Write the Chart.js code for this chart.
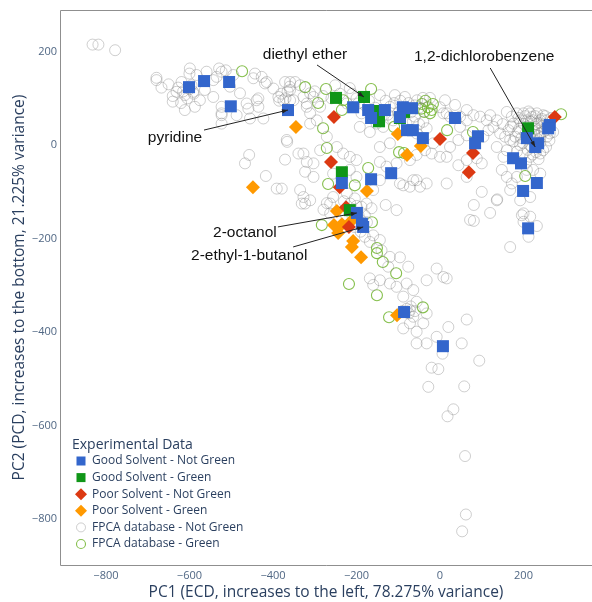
<!DOCTYPE html>
<html>
<head>
<meta charset="utf-8">
<script src="https://cdn.jsdelivr.net/npm/chart.js@4.4.1/dist/chart.umd.min.js"></script>
<style>
  html, body { margin: 0; padding: 0; background: #fff; }
  #myChart { display: block; }
</style>
</head>
<body>
<canvas id="myChart" width="592" height="602"></canvas>
<script>
const xTicks = [-800, -600, -400, -200, 0, 200];
const yTicks = [200, 0, -200, -400, -600, -800];

const goodNotGreen = [
  [-601, 124], [-565, 137], [-505, 135], [-501, 83], [-364, 75], [-208, 81], [-172, 75],
  [-132, 75], [-165, 58], [-89, 81], [-67, 79], [-96, 60], [-79, 32], [-65, 32], [-41, 15],
  [36, 58], [91, 19], [84, 4], [208, 15], [235, 4], [228, -4], [175, -28], [194, -39],
  [263, 43], [259, 36], [232, -81], [199, -98], [211, -178], [-117, -60], [-165, -73],
  [-235, -81], [-199, -145], [-184, -175], [-187, -168], [-86, -357], [7, -430]
];
const goodGreen = [
  [-249, 101], [-182, 103], [-156, 73], [-146, 51], [-86, 71], [-96, 58], [211, 36],
  [-235, -58], [-216, -139]
];
const poorNotGreen = [
  [-254, 60], [-261, -36], [-240, -90], [-225, -133], [-218, -175], [0, 13], [79, -17],
  [69, -58], [275, 60]
];
const poorGreen = [
  [-345, 39], [-448, -90], [-101, 24], [-46, -2], [-79, -21], [-175, -98], [-247, -141],
  [-254, -171], [-235, -169], [-213, -163], [-244, -188], [-208, -205], [-211, -218],
  [-189, -240], [-103, -364]
];
const fpcaGreen = [
  [-474, 158], [-323, 124], [-273, 120], [-232, 96], [-165, 120], [-292, 90], [-280, 36],
  [-235, 75], [-43, 88], [-29, 81], [-17, 88], [-38, 71], [-24, 68], [-35, 95], [-20, 75],
  [-45, 78], [17, 32], [79, 28], [290, 66], [204, -66], [-110, 39], [-98, -15], [-86, -17],
  [-271, -6], [-172, -49], [-204, -86], [-268, -83], [-283, -171], [-163, -165], [-151, -220],
  [-151, -231], [-137, -250], [-105, -274], [-218, -297], [-151, -321], [-41, -347], [-122, -368]
];
const fpcaNotGreen = [
  [-832, 215], [-818, 215], [-778, 203],
  [-679, 144], [-667, 123], [-679, 139], [-640, 93], [-627, 123], [-619, 135], [-599, 164],
  [-583, 150], [-611, 107], [-611, 75], [-575, 96], [-563, 118], [-543, 139], [-523, 157],
  [-535, 146], [-543, 103], [-523, 82], [-523, 64], [-487, 64], [-479, 111], [-459, 78],
  [-447, 143], [-427, 146], [-415, 135], [-435, 100], [-423, 57], [-455, 57], [-399, 121],
  [-387, 103], [-375, 96], [-371, 135], [-359, 135], [-351, 96], [-523, 46], [-503, 125],
  [-595, 128], [-631, 114], [-615, 115], [-605, 100], [-620, 90], [-600, 120], [-590, 110],
  [-640, 105], [-650, 130], [-380, 110], [-365, 115], [-370, 100], [-385, 95], [-360, 125],
  [-600, 153], [-559, 157], [-529, 164], [-513, 160], [-495, 150], [-443, 153], [-419, 132],
  [-327, 103], [-319, 82], [-439, 96], [-435, 82], [-463, 89], [-523, 68], [-587, 82], [-591, 114],
  [-366, 7], [-457, -21], [-467, -39], [-371, -31], [-339, -18], [-417, -66], [-391, -93],
  [-379, -93], [-331, -125], [-367, 11], [-323, -57], [-319, -36], [-327, -111],
  [-319, 89], [-303, 103], [-311, 68], [-295, 53], [-287, 82], [-311, 46], [-223, 89],
  [-196, 89], [-188, 68], [-192, 39], [-168, 28], [-136, 39], [-152, 46], [-120, 82],
  [-112, 53], [-60, 61], [-56, 25], [-32, 36], [-16, 4], [-20, -18], [-36, -11], [0, -25],
  [24, -4], [48, 39], [64, 75], [16, 68], [-144, -4], [-120, 4], [-144, -36], [-128, -46],
  [-104, -39], [-72, -32], [-56, -21], [-271, 18], [-287, -11], [-247, -4], [-232, -18],
  [-216, -25], [-200, -32], [-327, -18], [-303, -39], [-256, -61], [-216, -53], [-200, -68],
  [-303, -68], [-144, -75], [-64, -75], [-48, -89], [16, -82], [-72, -89], [-88, -86],
  [-130, 95], [-110, 90], [-95, 95], [-75, 90], [-60, 85], [-50, 80], [-70, 70], [-85, 75],
  [-100, 70], [-125, 65], [-140, 60], [-155, 80], [-170, 95], [-180, 85], [-200, 100],
  [-210, 110], [-240, 110], [-260, 100], [-280, 105], [-300, 115], [-50, 45], [-65, 50],
  [-80, 45], [-40, 50],
  [-347, 135], [-311, 111], [-359, 96], [-41, 101], [-55, 96], [0, 81], [-24, 101], [12, 96],
  [36, 86], [-251, 128], [-216, 122], [-144, 107], [-108, 107], [-84, 103], [-359, 118], [-335, 128],
  [8, 68], [24, 61], [48, 61], [64, 53], [80, 64], [96, 61], [112, 53], [120, 64], [128, 39],
  [116, 32], [104, 18], [64, 21], [44, 11], [16, -25], [44, -43], [64, -32], [88, -28],
  [100, -39], [64, -68], [100, -100], [81, -128], [136, -118], [81, -162], [168, -218],
  [196, -150], [216, -153], [232, -173], [212, -196], [200, -164], [120, -145], [72, -160],
  [137, -116],
  [160, 71], [172, 61], [184, 68], [200, 68], [216, 68], [232, 68], [247, 64], [256, 53],
  [240, 53], [223, 53], [208, 53], [192, 53], [176, 46], [164, 32], [156, 18], [168, 11],
  [180, 18], [192, 0], [184, -14], [200, -18], [216, -25], [240, -18], [247, -11], [256, 18],
  [263, 25], [271, 28], [240, 25], [160, -11], [152, -25], [148, -53], [160, -68], [172, -82],
  [184, -68], [208, -53], [223, -53], [240, -61], [168, -96], [216, -111], [192, -118],
  [200, -146], [136, 53], [144, 25], [136, -4], [220, 60], [230, 45], [245, 40], [210, 40],
  [225, 30], [235, 20], [250, 30], [215, 20], [205, 25], [225, 10], [240, 5], [215, 0],
  [230, -15], [210, -10], [250, 45], [260, 40], [200, 45], [190, 35], [195, 15], [230, 35],
  [240, 15], [220, -5], [212, 72], [228, 62], [244, 56], [236, 48], [252, 62], [266, 58],
  [218, 50], [204, 62], [188, 58], [226, 22], [244, 28], [212, 30], [198, 5], [222, -20],
  [236, -30], [206, -38], [186, 28], [176, 8], [262, 10], [254, -4], [170, 40], [150, 45],
  [-323, -125], [-279, -138], [-263, -125], [-256, -111], [-223, -103], [-204, -114],
  [-188, -132], [-176, -125], [-164, -135], [-263, -146], [-180, -196], [-160, -193],
  [-168, -207], [-144, -203], [-140, -225], [-120, -239], [-124, -260], [-168, -285],
  [-144, -289], [-160, -299], [-120, -296], [-96, -240], [-76, -260], [-104, -303], [-80, -296],
  [-64, -310], [-88, -324], [-56, -335], [-72, -353], [-64, -367], [-88, -392], [-72, -381],
  [-56, -399], [-40, -381], [-32, -360], [-56, -424], [-32, -424], [-8, -410], [20, -389],
  [-8, -264], [8, -282], [16, -285], [-32, -289], [-96, -82], [-56, -75], [-32, -82],
  [-104, -139], [64, -373], [52, -424], [6, -446], [94, -461], [-20, -476], [-4, -479],
  [-28, -517], [58, -516], [32, -565], [18, -580], [60, -665], [62, -790], [53, -826],
  [-80, -350], [-70, -345], [-75, -360], [-60, -355], [-90, -355],
  [-230, -120], [-215, -125], [-200, -130], [-195, -150], [-210, -150], [-190, -160],
  [-180, -150], [-175, -165], [-205, -175], [-190, -185], [-225, -150], [-160, -96],
  [-130, -128], [-335, -96], [-311, -118], [-271, -124]
];

const legendTitle = "Experimental Data";
const seriesNames = [
  "Good Solvent - Not Green",
  "Good Solvent - Green",
  "Poor Solvent - Not Green",
  "Poor Solvent - Green",
  "FPCA database - Not Green",
  "FPCA database - Green"
];

// text, target point [x, y], text offset and arrow tail offset in px from the target
const labels = [
  { text: "diethyl ether", at: [-182, 103], dx: -59, dy: -42, tx: -47, ty: -32 },
  { text: "1,2-dichlorobenzene", at: [228, -4], dx: -51, dy: -90, tx: -45, ty: -79 },
  { text: "pyridine", at: [-364, 75], dx: -113, dy: 28, tx: -84, ty: 20 },
  { text: "2-octanol", at: [-199, -145], dx: -112, dy: 20, tx: -79, ty: 14 },
  { text: "2-ethyl-1-butanol", at: [-184, -175], dx: -114, dy: 29, tx: -70, ty: 20 }
];

function toPoints(list) {
  return list.map(p => ({ x: p[0], y: p[1] }));
}

function minusLabel(v) {
  return v < 0 ? "\u2212" + Math.abs(v) : String(v);
}

const markerStyles = [
  { pointStyle: "rect", pointRadius: 8.5, backgroundColor: "#3366cc", borderColor: "#3366cc", borderWidth: 0 },
  { pointStyle: "rect", pointRadius: 8.5, backgroundColor: "#109618", borderColor: "#109618", borderWidth: 0 },
  { pointStyle: "rectRot", pointRadius: 7, backgroundColor: "#dc3912", borderColor: "#dc3912", borderWidth: 0 },
  { pointStyle: "rectRot", pointRadius: 7, backgroundColor: "#ff9900", borderColor: "#ff9900", borderWidth: 0 },
  { pointStyle: "circle", pointRadius: 5.5, backgroundColor: "rgba(0,0,0,0)", borderColor: "rgba(130,130,130,0.38)", borderWidth: 1 },
  { pointStyle: "circle", pointRadius: 5.5, backgroundColor: "rgba(0,0,0,0)", borderColor: "rgba(120,184,56,0.9)", borderWidth: 1.1 }
];

const seriesData = [goodNotGreen, goodGreen, poorNotGreen, poorGreen, fpcaNotGreen, fpcaGreen];

const datasets = seriesData.map((d, i) => ({
  label: seriesNames[i],
  data: toPoints(d),
  pointStyle: markerStyles[i].pointStyle,
  pointRadius: markerStyles[i].pointRadius,
  pointBackgroundColor: markerStyles[i].backgroundColor,
  pointBorderColor: markerStyles[i].borderColor,
  pointBorderWidth: markerStyles[i].borderWidth,
  pointHoverRadius: markerStyles[i].pointRadius,
  showLine: false
}));

const framePlugin = {
  id: "frame",
  afterDatasetsDraw(chart) {
    const ctx = chart.ctx;
    const a = chart.chartArea;
    ctx.save();
    ctx.strokeStyle = "#8f8f8f";
    ctx.lineWidth = 1;
    ctx.beginPath();
    ctx.moveTo(a.right, a.top + 0.5);
    ctx.lineTo(a.left + 0.5, a.top + 0.5);
    ctx.lineTo(a.left + 0.5, a.bottom + 0.5);
    ctx.lineTo(a.right, a.bottom + 0.5);
    ctx.stroke();

    // axis titles
    ctx.fillStyle = "#2a3f5f";
    ctx.font = "15.5px 'Open Sans'";
    ctx.textAlign = "center";
    ctx.textBaseline = "middle";
    ctx.fillText("PC1 (ECD, increases to the left, 78.275% variance)", (a.left + a.right) / 2, 593);
    ctx.translate(20, (a.top + a.bottom) / 2);
    ctx.rotate(-Math.PI / 2);
    ctx.fillText("PC2 (PCD, increases to the bottom, 21.225% variance)", 0, 0);
    ctx.restore();
  }
};

const annotationPlugin = {
  id: "labels",
  afterDatasetsDraw(chart) {
    const ctx = chart.ctx;
    const xs = chart.scales.x;
    const ys = chart.scales.y;
    ctx.save();
    labels.forEach(l => {
      const px = xs.getPixelForValue(l.at[0]);
      const py = ys.getPixelForValue(l.at[1]);
      const sx = px + l.tx;
      const sy = py + l.ty;
      ctx.strokeStyle = "#222";
      ctx.fillStyle = "#222";
      ctx.lineWidth = 1;
      ctx.beginPath();
      ctx.moveTo(sx, sy);
      ctx.lineTo(px, py);
      ctx.stroke();
      const ang = Math.atan2(py - sy, px - sx);
      ctx.beginPath();
      ctx.moveTo(px, py);
      ctx.lineTo(px - 6 * Math.cos(ang) + 2.2 * Math.sin(ang), py - 6 * Math.sin(ang) - 2.2 * Math.cos(ang));
      ctx.lineTo(px - 6 * Math.cos(ang) - 2.2 * Math.sin(ang), py - 6 * Math.sin(ang) + 2.2 * Math.cos(ang));
      ctx.closePath();
      ctx.fill();
      ctx.fillStyle = "#111";
      ctx.font = "15.5px 'Liberation Sans', Arial, sans-serif";
      ctx.textAlign = "center";
      ctx.textBaseline = "middle";
      ctx.fillText(l.text, px + l.dx, py + l.dy);
    });
    ctx.restore();
  }
};

const legendPlugin = {
  id: "customLegend",
  afterDraw(chart) {
    const ctx = chart.ctx;
    ctx.save();
    ctx.fillStyle = "#2a3f5f";
    ctx.font = "14px 'Open Sans'";
    ctx.textAlign = "left";
    ctx.textBaseline = "middle";
    ctx.fillText(legendTitle, 72, 445);
    ctx.font = "12px 'Open Sans'";
    seriesNames.forEach((name, i) => {
      const cy = 461 + i * 16.6;
      const cx = 81;
      const st = markerStyles[i];
      ctx.beginPath();
      if (st.pointStyle === "rect") {
        ctx.fillStyle = st.backgroundColor;
        ctx.fillRect(cx - 4.5, cy - 4.5, 9, 9);
      } else if (st.pointStyle === "rectRot") {
        ctx.fillStyle = st.backgroundColor;
        ctx.moveTo(cx, cy - 6);
        ctx.lineTo(cx + 6, cy);
        ctx.lineTo(cx, cy + 6);
        ctx.lineTo(cx - 6, cy);
        ctx.closePath();
        ctx.fill();
      } else {
        ctx.strokeStyle = st.borderColor;
        ctx.lineWidth = st.borderWidth;
        ctx.arc(cx, cy, 4.5, 0, Math.PI * 2);
        ctx.stroke();
      }
      ctx.fillStyle = "#2a3f5f";
      ctx.fillText(name, 92, cy);
    });
    ctx.restore();
  }
};

const myChart = new Chart(document.getElementById("myChart").getContext("2d"), {
  type: "scatter",
  data: { datasets: datasets },
  options: {
    responsive: false,
    animation: false,
    devicePixelRatio: 1,
    layout: { autoPadding: false, padding: { top: 10, right: 0, left: 0, bottom: 0 } },
    plugins: {
      legend: { display: false },
      tooltip: { enabled: false }
    },
    scales: {
      x: {
        type: "linear",
        min: -910,
        max: 364,
        grid: { display: false, drawTicks: false },
        border: { display: false },
        afterBuildTicks: scale => {
          scale.ticks = xTicks.map(v => ({ value: v }));
        },
        afterFit: scale => {
          scale.height = 37;
          scale.paddingLeft = 0;
          scale.paddingRight = 0;
        },
        ticks: {
          padding: 4,
          maxRotation: 0,
          color: "#506784",
          font: { family: "'Open Sans'", size: 11 },
          callback: v => minusLabel(v)
        }
      },
      y: {
        type: "linear",
        min: -898,
        max: 289,
        grid: { display: false, drawTicks: false },
        border: { display: false },
        afterBuildTicks: scale => {
          scale.ticks = yTicks.map(v => ({ value: v }));
        },
        afterFit: scale => {
          scale.width = 60;
          scale.paddingTop = 0;
          scale.paddingBottom = 0;
        },
        ticks: {
          padding: 3,
          color: "#506784",
          font: { family: "'Open Sans'", size: 11 },
          callback: v => minusLabel(v)
        }
      }
    }
  },
  plugins: [framePlugin, annotationPlugin, legendPlugin]
});
</script>
</body>
</html>
